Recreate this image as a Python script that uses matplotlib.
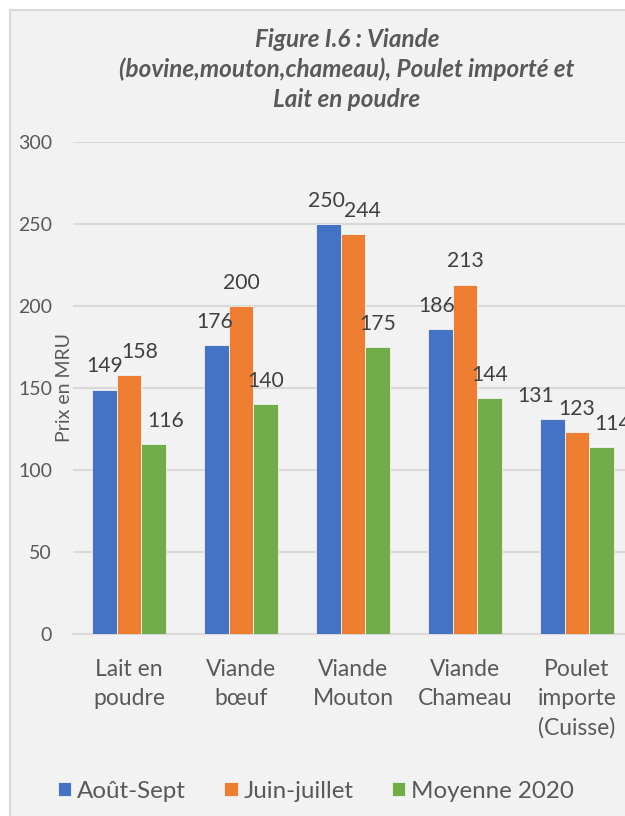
import matplotlib.pyplot as plt
from matplotlib.patches import Rectangle
import numpy as np

plt.rcParams['font.family'] = ['Lato', 'DejaVu Sans']

categories = ["Lait en\npoudre", "Viande\nbœuf", "Viande\nMouton",
              "Viande\nChameau", "Poulet\nimporte\n(Cuisse)"]
series = ["Août-Sept", "Juin-juillet", "Moyenne 2020"]
aout_sept = [149, 176, 250, 186, 131]
juin_juillet = [158, 200, 244, 213, 123]
moyenne_2020 = [116, 140, 175, 144, 114]
colors = ["#4472C4", "#ED7D31", "#70AD47"]

# manual label nudges (pixels), as in the original
nudges = [[0, 11, 12], [-2, 0, 0], [-2, 9, 0], [-4, 0, 0], [-17, 0, 11]]

fig = plt.figure(figsize=(6.25, 8.16), dpi=100)
fig.patch.set_facecolor("white")

# chart area frame
frame = Rectangle((10 / 625, -0.1), 1.2, (816 - 10) / 816 + 0.1,
                  transform=fig.transFigure, facecolor="#f2f2f2",
                  edgecolor="#d9d9d9", linewidth=1.5, zorder=-5)
fig.patches.append(frame)

ax = fig.add_axes([73 / 625, (816 - 634) / 816, 560 / 625, 492 / 816])
ax.set_facecolor("none")

x = np.arange(len(categories))
w = 0.22
data = [aout_sept, juin_juillet, moyenne_2020]
for i, (vals, col, name) in enumerate(zip(data, colors, series)):
    pos = x + (i - 1) * w
    ax.bar(pos, vals, w, color=col, edgecolor="#f2f2f2", linewidth=0.6,
           label=name, zorder=3)
    for j, (p, v) in enumerate(zip(pos, vals)):
        ax.annotate(str(v), (p, v), xytext=(nudges[j][i] * 0.72, 9.5),
                    textcoords="offset points", ha="center", va="bottom",
                    fontsize=15.2, color="#404040", annotation_clip=False,
                    zorder=6)

ax.set_xlim(-0.5, len(categories) - 0.5)
ax.set_ylim(0, 300)
ax.set_yticks(range(0, 301, 50))
ax.yaxis.grid(True, color="#d9d9d9", linewidth=1.5, zorder=0)
ax.set_axisbelow(True)
for s in ["top", "right", "left"]:
    ax.spines[s].set_visible(False)
ax.spines["bottom"].set_color("#d9d9d9")
ax.spines["bottom"].set_linewidth(1.5)
ax.tick_params(length=0)
ax.tick_params(axis="y", labelsize=14, labelcolor="#595959", pad=15)
ax.tick_params(axis="x", labelsize=16.5, labelcolor="#595959", pad=18)
ax.set_xticks(x)
ax.set_xticklabels(categories, linespacing=1.47)
ax.set_ylabel("Prix en MRU", fontsize=14, color="#595959")
ax.yaxis.set_label_coords(-9 / 560, 0.5)
ax.yaxis.label.set_va("center")

fig.text(347 / 625, 1 - 28 / 816,
         "Figure I.6 : Viande\n(bovine,mouton,chameau), Poulet importé et\nLait en poudre",
         ha="center", va="top", fontsize=17.5, fontstyle="italic",
         fontweight="bold", color="#595959", linespacing=1.34)

fig.legend(loc="center", bbox_to_anchor=(316 / 625, 1 - 791 / 816), ncol=3,
           frameon=False, fontsize=17.4, labelcolor="#595959",
           handlelength=0.54, handleheight=0.54, handletextpad=0.25,
           columnspacing=1.6)

fig.savefig("out.png", dpi=100, facecolor=fig.get_facecolor())
